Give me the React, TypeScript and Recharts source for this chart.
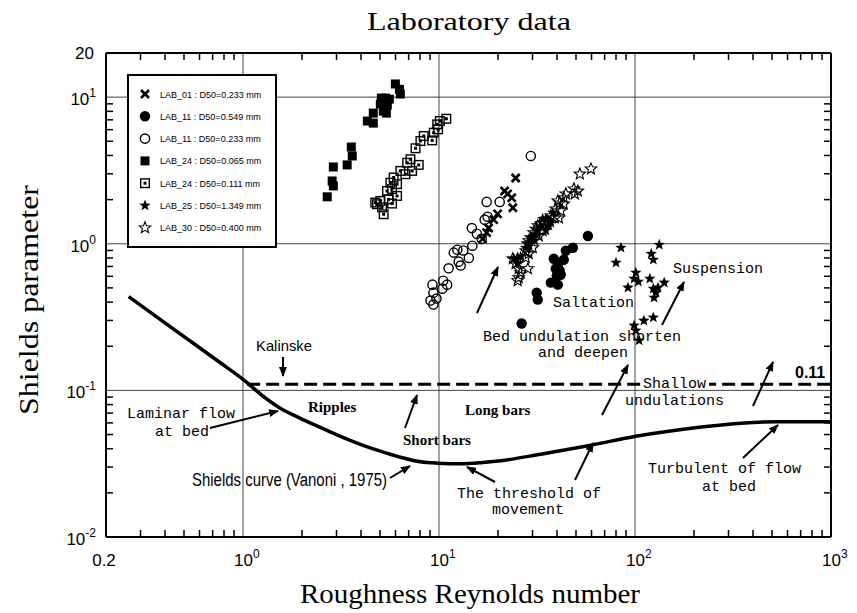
import React from "react";
import { ComposedChart, XAxis, YAxis, Scatter, Line, ReferenceLine } from "recharts";

const W = 857;
const H = 613;

// axis ticks (log decades + minor ticks)
const xMajor = [0.2, 1, 10, 100, 1000];
const xMinor = [
  0.3, 0.4, 0.5, 0.6, 0.7, 0.8, 0.9, 2, 3, 4, 5, 6, 7, 8, 9,
  20, 30, 40, 50, 60, 70, 80, 90, 200, 300, 400, 500, 600, 700, 800, 900,
];
const yMajor = [0.01, 0.1, 1, 10, 20];
const yMinor = [
  0.02, 0.03, 0.04, 0.05, 0.06, 0.07, 0.08, 0.09,
  0.2, 0.3, 0.4, 0.5, 0.6, 0.7, 0.8, 0.9, 2, 3, 4, 5, 6, 7, 8, 9,
];
const xGrid = [1, 10, 100];
const yGrid = [0.1, 1, 10];

// Shields curve (Vanoni, 1975)
const shieldsRe = [
  0.261, 0.476, 0.763, 1, 1.25, 1.55, 1.96, 2.48, 3.14, 3.97, 5.02, 6.35, 8.04, 9.83,
  12.9, 16.3, 20.6, 33, 59.6, 101, 193, 347, 526, 1000,
];
const shieldsTheta = [
  0.436, 0.244, 0.155, 0.119, 0.0925, 0.0755, 0.0645, 0.056, 0.0486, 0.0429, 0.0385, 0.035,
  0.0326, 0.0319, 0.0316, 0.0321, 0.0331, 0.0367, 0.0423, 0.0486, 0.0551, 0.0597, 0.0611, 0.0611,
];

// Kalinske criterion
const kalinskeRe = [1.05, 1000];
const kalinskeTheta = [0.11, 0.11];

// laboratory runs: [Re*, theta]
const LAB_01: [number, number][] = [
  [24.6, 2.81], [21.6, 2.29], [22.4, 2.19], [23.5, 2.06], [23.8, 1.76],
  [19.9, 1.6], [19.0, 1.46], [17.9, 1.28], [16.7, 1.08], [17.5, 1.19],
];
const LAB_11_549: [number, number][] = [
  [57.5, 1.13], [48.2, 0.939], [44.4, 0.896], [38.5, 0.79], [43.3, 0.778],
  [40.4, 0.72], [41.3, 0.655], [41.8, 0.615], [39.9, 0.606], [37.2, 0.543],
  [40.4, 0.526], [31.5, 0.464], [31.9, 0.416], [26.4, 0.286], [39.4, 0.676],
];
const LAB_11_233: [number, number][] = [
  [29.4, 3.97], [17.5, 1.93], [20.4, 1.93], [17.1, 1.46], [17.7, 1.53],
  [14.7, 1.28], [15.6, 1.17], [16.5, 1.08], [14.8, 0.97], [13.3, 0.9],
  [11.9, 0.87], [12.4, 0.91], [14.2, 0.8], [12.6, 0.755], [12.9, 0.71],
  [11.2, 0.68], [10.5, 0.56], [11.0, 0.526], [10.4, 0.494], [9.26, 0.526],
  [9.37, 0.464], [9.05, 0.41], [9.37, 0.385], [9.71, 0.423],
];
const LAB_24_065: [number, number][] = [
  [5.99, 12.3], [6.28, 11.3], [6.35, 10.5], [5.08, 9.85], [5.33, 9.85],
  [5.58, 9.69], [5.02, 8.96], [5.45, 8.83], [5.2, 8.03], [5.39, 7.78],
  [4.62, 7.78], [4.31, 6.87], [4.62, 6.65], [3.57, 4.57], [3.61, 3.97],
  [3.4, 3.45], [2.89, 3.34], [2.85, 2.68], [2.89, 2.48], [2.69, 2.09],
];
const LAB_24_111: [number, number][] = [
  [10.9, 7.12], [10.1, 6.87], [9.79, 6.52], [9.9, 6.03], [9.4, 5.72],
  [9.23, 5.07], [8.36, 5.43], [8.04, 5.02], [7.59, 4.48], [7.15, 3.77],
  [6.88, 3.57], [7.88, 3.45], [7.29, 3.14], [6.74, 2.98], [6.35, 3.14],
  [5.87, 2.83], [5.65, 2.61], [6.11, 2.55], [5.76, 2.36], [5.43, 2.29],
  [6.11, 2.12], [5.54, 2.01], [5.02, 1.96], [4.83, 1.86], [5.76, 1.88],
  [5.12, 1.77], [5.22, 1.59], [4.73, 1.91],
];
const LAB_25: [number, number][] = [
  [84.8, 0.939], [80, 0.743], [133, 0.984], [121, 0.855], [124, 0.778],
  [101, 0.635], [98.9, 0.578], [104, 0.551], [92.1, 0.502], [119, 0.578],
  [141, 0.543], [124, 0.494], [131, 0.502], [128, 0.464], [125, 0.429],
  [124, 0.314], [111, 0.299], [98.9, 0.277], [101, 0.256], [105, 0.219],
  [35.1, 1.48], [37.2, 1.39], [33.0, 1.31], [31.5, 1.23], [35.1, 1.23],
  [29.7, 1.1], [28.7, 1.0], [30.8, 1.05], [27.7, 0.939], [26.1, 0.816],
  [24.1, 0.79], [25.2, 0.743], [31.9, 1.15], [38.1, 1.63], [36.3, 1.33], [33.8, 1.48],
];
const LAB_30: [number, number][] = [
  [59.6, 3.24], [52.3, 2.99], [48.8, 2.37], [51.1, 2.29], [49.3, 2.19],
  [44.4, 2.19], [43.3, 2.06], [40.4, 1.96], [41.3, 1.9], [43.3, 1.87],
  [40.9, 1.5], [39.0, 1.5], [37.2, 1.55], [35.9, 1.43], [34.3, 1.39],
  [33.0, 1.37], [31.9, 1.33], [31.2, 1.26], [30.4, 1.19], [33.8, 1.23],
  [32.3, 1.13], [29.4, 1.1], [28.7, 1.05], [28.4, 1.0], [30.1, 0.939],
  [27.7, 0.896], [28.7, 0.855], [27.7, 0.803], [25.2, 0.79], [23.8, 0.79],
  [24.6, 0.731], [25.5, 0.676], [26.1, 0.635], [28.4, 0.676], [25.5, 0.587],
  [25.2, 0.56], [39.4, 1.73], [41.8, 1.68],
];

const toPts = (arr: [number, number][]) => arr.map(([x, y]) => ({ x, y }));
const toCurve = (xs: number[], ys: number[]) => xs.map((x, i) => ({ x, y: ys[i] }));

const SANS = "'Liberation Sans', Arial, sans-serif";
const SERIF = "'Liberation Serif', 'Times New Roman', serif";
const MONO = "'Liberation Mono', 'Courier New', monospace";

// ---- marker shapes ----
function starPath(cx: number, cy: number, R: number, r: number) {
  let d = "";
  for (let i = 0; i < 10; i++) {
    const a = -Math.PI / 2 + (i * Math.PI) / 5;
    const rad = i % 2 ? r : R;
    d += (i ? "L" : "M") + (cx + rad * Math.cos(a)).toFixed(2) + " " + (cy + rad * Math.sin(a)).toFixed(2);
  }
  return d + "Z";
}

const CrossMark = ({ cx, cy }: any) => (
  <g stroke="#000" strokeWidth={2.6}>
    <line x1={cx - 4} y1={cy - 4} x2={cx + 4} y2={cy + 4} />
    <line x1={cx - 4} y1={cy + 4} x2={cx + 4} y2={cy - 4} />
  </g>
);
const DotMark = ({ cx, cy }: any) => <circle cx={cx} cy={cy} r={5.2} fill="#000" />;
const RingMark = ({ cx, cy }: any) => (
  <circle cx={cx} cy={cy} r={4.6} fill="none" stroke="#000" strokeWidth={1.4} />
);
const SquareMark = ({ cx, cy }: any) => <rect x={cx - 4.5} y={cy - 4.5} width={9} height={9} fill="#000" />;
const BoxMark = ({ cx, cy }: any) => (
  <g>
    <rect x={cx - 4.3} y={cy - 4.3} width={8.6} height={8.6} fill="none" stroke="#000" strokeWidth={1.4} />
    <rect x={cx - 1.5} y={cy - 1.5} width={3} height={3} fill="#000" />
  </g>
);
const StarMark = ({ cx, cy }: any) => <path d={starPath(cx, cy, 6, 2.5)} fill="#000" />;
const OpenStarMark = ({ cx, cy }: any) => (
  <path d={starPath(cx, cy, 6, 2.6)} fill="none" stroke="#000" strokeWidth={1.1} />
);

const series = [
  { name: "LAB_01 : D50=0.233 mm", data: LAB_01, Mark: CrossMark },
  { name: "LAB_11 : D50=0.549 mm", data: LAB_11_549, Mark: DotMark },
  { name: "LAB_11 : D50=0.233 mm", data: LAB_11_233, Mark: RingMark },
  { name: "LAB_24 : D50=0.065 mm", data: LAB_24_065, Mark: SquareMark },
  { name: "LAB_24 : D50=0.111 mm", data: LAB_24_111, Mark: BoxMark },
  { name: "LAB_25 : D50=1.349 mm", data: LAB_25, Mark: StarMark },
  { name: "LAB_30 : D50=0.400 mm", data: LAB_30, Mark: OpenStarMark },
];

// ---- tick renderers (ticks point into the frame) ----
const expOf = (v: number) => String(Math.round(Math.log10(v)));

const BottomTick = ({ x, y, payload }: any) => {
  const v = payload.value;
  const major = xMajor.includes(v);
  return (
    <g>
      {!major && <line x1={x} x2={x} y1={y} y2={y - 7} stroke="#000" strokeWidth={1.5} />}
      {major &&
        (v === 0.2 ? (
          <text x={x - 2} y={y + 29} textAnchor="middle" fontFamily={SANS} fontSize={17} fill="#000">0.2</text>
        ) : (
          <text x={x - 9} y={y + 29} fontFamily={SANS} fontSize={17} fill="#000">
            10<tspan dy={-8} fontSize={12}>{expOf(v)}</tspan>
          </text>
        ))}
    </g>
  );
};

const TopTick = ({ x, y, payload }: any) =>
  xMajor.includes(payload.value) ? <g /> : (
    <line x1={x} x2={x} y1={y} y2={y + 7} stroke="#000" strokeWidth={1.5} />
  );

const LeftTick = ({ x, y, payload }: any) => {
  const v = payload.value;
  const major = yMajor.includes(v);
  return (
    <g>
      {!major && <line x1={x} x2={x + 7} y1={y} y2={y} stroke="#000" strokeWidth={1.5} />}
      {major &&
        (v === 20 ? (
          <text x={x - 12} y={y + 6} textAnchor="end" fontFamily={SANS} fontSize={17} fill="#000">20</text>
        ) : (
          <text x={x - 10} y={y + 8} textAnchor="end" fontFamily={SANS} fontSize={17} fill="#000">
            10<tspan dy={-8} fontSize={12}>{expOf(v)}</tspan>
          </text>
        ))}
    </g>
  );
};

const RightTick = ({ x, y, payload }: any) =>
  yMajor.includes(payload.value) ? <g /> : (
    <line x1={x} x2={x - 7} y1={y} y2={y} stroke="#000" strokeWidth={1.5} />
  );

const xTicks = [...xMajor, ...xMinor].sort((a, b) => a - b);
const yTicks = [...yMajor, ...yMinor].sort((a, b) => a - b);

// ---- annotation helpers ----
const Arrow = ({ x1, y1, x2, y2 }: { x1: number; y1: number; x2: number; y2: number }) => (
  <line x1={x1} y1={y1} x2={x2} y2={y2} stroke="#000" strokeWidth={2} markerEnd="url(#head)" />
);
const Mono = ({ x, y, children }: any) => (
  <text x={x} y={y} fontFamily={MONO} fontSize={15} fill="#000">{children}</text>
);
const Bold = ({ x, y, children }: any) => (
  <text x={x} y={y} fontFamily={SERIF} fontSize={15} fontWeight="bold" fill="#000">{children}</text>
);

function Legend() {
  return (
    <g>
      <rect x={128} y={75} width={148} height={172} fill="#fff" stroke="#000" strokeWidth={2} />
      {series.map((s, i) => {
        const cy = 94 + i * 22.3;
        const M = s.Mark;
        return (
          <g key={s.name}>
            <M cx={145} cy={cy} />
            <text x={160} y={cy + 3.5} fontFamily={SANS} fontSize={9} fill="#000">{s.name}</text>
          </g>
        );
      })}
    </g>
  );
}

function Overlay() {
  return (
    <svg width={W} height={H} style={{ position: "absolute", left: 0, top: 0, pointerEvents: "none" }}>
      <defs>
        <marker id="head" viewBox="0 0 10 8" refX={9} refY={4} markerWidth={10} markerHeight={8}
          markerUnits="userSpaceOnUse" orient="auto">
          <path d="M0 0 L10 4 L0 8 Z" fill="#000" />
        </marker>
      </defs>

      <text x={469} y={30} textAnchor="middle" fontFamily={SERIF} fontSize={26} textLength={204}
        lengthAdjust="spacingAndGlyphs" fill="#000">Laboratory data</text>
      <text x={470} y={603} textAnchor="middle" fontFamily={SERIF} fontSize={27} textLength={340}
        lengthAdjust="spacingAndGlyphs" fill="#000">Roughness Reynolds number</text>
      <text transform="translate(38 300) rotate(-90)" textAnchor="middle" fontFamily={SERIF} fontSize={27}
        textLength={230} lengthAdjust="spacingAndGlyphs" fill="#000">Shields parameter</text>

      <Legend />

      {/* flow regimes and bed forms */}
      <Mono x={673} y={273}>Suspension</Mono>
      <Mono x={553} y={307}>Saltation</Mono>
      <Mono x={483} y={341}>Bed undulation shorten</Mono>
      <Mono x={538} y={357}>and deepen</Mono>
      <rect x={641} y={377} width={68} height={11} fill="#fff" />
      <Mono x={643} y={388}>Shallow</Mono>
      <Mono x={625} y={405}>undulations</Mono>
      <Mono x={127} y={418}>Laminar flow</Mono>
      <Mono x={155} y={436}>at bed</Mono>
      <Mono x={457} y={498}>The threshold of</Mono>
      <Mono x={492} y={514}>movement</Mono>
      <Mono x={648} y={473}>Turbulent of flow</Mono>
      <Mono x={702} y={491}>at bed</Mono>

      <Bold x={308} y={412}>Ripples</Bold>
      <Bold x={465} y={415}>Long bars</Bold>
      <Bold x={403} y={445}>Short bars</Bold>

      <text x={192} y={486} fontFamily={SANS} fontSize={18} textLength={195} lengthAdjust="spacingAndGlyphs"
        fill="#000">Shields curve (Vanoni , 1975)</text>
      <text x={256} y={351} fontFamily={SANS} fontSize={15} textLength={56} lengthAdjust="spacingAndGlyphs"
        fill="#000">Kalinske</text>
      <text x={795} y={378} fontFamily={SANS} fontSize={16} fontWeight="bold" fill="#000">0.11</text>

      <Arrow x1={210} y1={428} x2={278} y2={411} />
      <Arrow x1={405} y1={428} x2={417} y2={395} />
      <Arrow x1={390} y1={478} x2={410} y2={466} />
      <Arrow x1={283} y1={357} x2={283} y2={376} />
      <Arrow x1={495} y1={482} x2={467} y2={467} />
      <Arrow x1={575} y1={480} x2={593} y2={443} />
      <Arrow x1={602} y1={415} x2={628} y2={365} />
      <Arrow x1={753} y1={406} x2={773} y2={362} />
      <Arrow x1={743} y1={458} x2={778} y2={425} />
      <Arrow x1={477} y1={313} x2={498} y2={267} />
      <Arrow x1={662} y1={325} x2={684} y2={282} />
    </svg>
  );
}

export default function App() {
  const axisLine = { stroke: "#000", strokeWidth: 2 };
  return (
    <div style={{ position: "absolute", left: 0, top: 0, width: W, height: H, background: "#fff" }}>
      <ComposedChart width={W} height={H} margin={{ top: 43, right: 16, bottom: 36, left: 36 }}>
        <XAxis dataKey="x" type="number" scale="log" domain={[0.2, 1000]} allowDataOverflow
          ticks={xTicks} interval={0} tickSize={0} tickMargin={0} tickLine={false}
          axisLine={axisLine} tick={<BottomTick />} height={40} />
        <XAxis xAxisId="top" orientation="top" dataKey="x" type="number" scale="log" domain={[0.2, 1000]}
          allowDataOverflow ticks={xTicks} interval={0} tickSize={0} tickMargin={0} tickLine={false}
          axisLine={axisLine} tick={<TopTick />} height={10} />
        <YAxis dataKey="y" type="number" scale="log" domain={[0.01, 20]} allowDataOverflow
          ticks={yTicks} interval={0} tickSize={0} tickMargin={0} tickLine={false}
          axisLine={axisLine} tick={<LeftTick />} width={70} />
        <YAxis yAxisId="right" orientation="right" dataKey="y" type="number" scale="log" domain={[0.01, 20]}
          allowDataOverflow ticks={yTicks} interval={0} tickSize={0} tickMargin={0} tickLine={false}
          axisLine={axisLine} tick={<RightTick />} width={10} />

        {xGrid.map((v) => (
          <ReferenceLine key={"gx" + v} x={v} stroke="#444" strokeWidth={1} />
        ))}
        {yGrid.map((v) => (
          <ReferenceLine key={"gy" + v} y={v} stroke="#444" strokeWidth={1} />
        ))}

        <Line data={toCurve(kalinskeRe, kalinskeTheta)} dataKey="y" stroke="#000" strokeWidth={3}
          strokeDasharray="13 6" dot={false} isAnimationActive={false} />
        <Line data={toCurve(shieldsRe, shieldsTheta)} dataKey="y" type="monotone" stroke="#000"
          strokeWidth={3.5} dot={false} isAnimationActive={false} />

        {series.map((s) => (
          <Scatter key={s.name} name={s.name} data={toPts(s.data)} shape={(p: any) => <s.Mark cx={p.cx} cy={p.cy} />}
            isAnimationActive={false} />
        ))}
      </ComposedChart>
      <Overlay />
    </div>
  );
}
